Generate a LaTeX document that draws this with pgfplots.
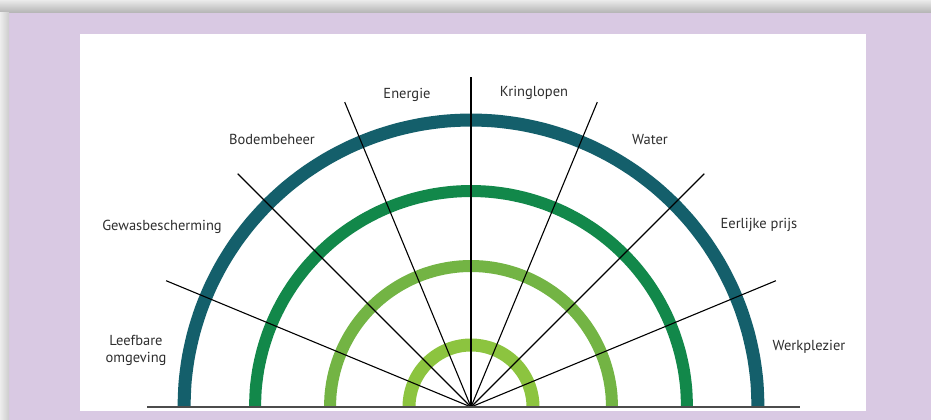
\documentclass[border=0pt]{standalone}
\usepackage{pgfplots}
\pgfplotsset{compat=1.18}
\usepackage{pgfplotstable}
\usepgfplotslibrary{polar}
\usepackage{fontspec}
\setmainfont{PT Sans}
\definecolor{lav}{HTML}{D9C9E3}
\definecolor{teal1}{HTML}{145F6B}
\definecolor{green1}{HTML}{12884A}
\definecolor{green2}{HTML}{73B444}
\definecolor{green3}{HTML}{8CC43F}
\definecolor{txt}{HTML}{2E2E2E}
\pgfplotstableread{
a r1 r2 r3 r4
0 287 216 141 62
5 287 216 141 62
10 287 216 141 62
15 287 216 141 62
20 287 216 141 62
25 287 216 141 62
30 287 216 141 62
35 287 216 141 62
40 287 216 141 62
45 287 216 141 62
50 287 216 141 62
55 287 216 141 62
60 287 216 141 62
65 287 216 141 62
70 287 216 141 62
75 287 216 141 62
80 287 216 141 62
85 287 216 141 62
90 287 216 141 62
95 287 216 141 62
100 287 216 141 62
105 287 216 141 62
110 287 216 141 62
115 287 216 141 62
120 287 216 141 62
125 287 216 141 62
130 287 216 141 62
135 287 216 141 62
140 287 216 141 62
145 287 216 141 62
150 287 216 141 62
155 287 216 141 62
160 287 216 141 62
165 287 216 141 62
170 287 216 141 62
175 287 216 141 62
180 287 216 141 62
}\arcs
\begin{document}
\begin{tikzpicture}
% background
\fill[lav] (0,0) rectangle (931pt,420pt);
\shade[top color=white!92!black, bottom color=white!70!black] (0,407pt) rectangle (931pt,420pt);
\shade[left color=white!93!black, right color=white!80!black] (0,0) rectangle (9pt,407pt);
\fill[white] (80pt,9pt) rectangle (866pt,386pt);
\begin{axis}[
  at={(0,0)}, anchor=south west,
  scale only axis, width=931pt, height=420pt,
  xmin=-471, xmax=460, ymin=-13, ymax=407,
  hide axis, clip=false,
]
\addplot[teal1, line width=13pt, smooth, data cs=polar] table[x=a, y=r1] {\arcs};
\addplot[green1, line width=12pt, smooth, data cs=polar] table[x=a, y=r2] {\arcs};
\addplot[green2, line width=12pt, smooth, data cs=polar] table[x=a, y=r3] {\arcs};
\addplot[green3, line width=13pt, smooth, data cs=polar] table[x=a, y=r4] {\arcs};
% rays
\addplot[black, line width=1.1pt, data cs=polar] coordinates {(0,0) (22.5,330)};
\addplot[black, line width=1.1pt, data cs=polar] coordinates {(0,0) (45,330)};
\addplot[black, line width=1.1pt, data cs=polar] coordinates {(0,0) (67.5,330)};
\addplot[black, line width=1.1pt, data cs=polar] coordinates {(0,0) (90,330)};
\addplot[black, line width=1.1pt, data cs=polar] coordinates {(0,0) (112.5,330)};
\addplot[black, line width=1.1pt, data cs=polar] coordinates {(0,0) (135,330)};
\addplot[black, line width=1.1pt, data cs=polar] coordinates {(0,0) (157.5,330)};
% baseline
\addplot[black!70, line width=2pt] coordinates {(-324,0) (329,0)};
% labels
\begin{scope}[every node/.style={font=\fontsize{14.5}{17}\selectfont, text=txt, align=center}]
\node at (axis cs:-335,57) {Leefbare\\omgeving};
\node at (axis cs:-309,180) {Gewasbescherming};
\node at (axis cs:-199,268) {Bodembeheer};
\node at (axis cs:-64,312) {Energie};
\node at (axis cs:63,314) {Kringlopen};
\node at (axis cs:179,267) {Water};
\node at (axis cs:288,182) {Eerlijke prijs};
\node at (axis cs:338,60) {Werkplezier};
\end{scope}
\end{axis}
\pgfresetboundingbox
\useasboundingbox (0,0) rectangle (931pt,420pt);
\end{tikzpicture}
\end{document}
